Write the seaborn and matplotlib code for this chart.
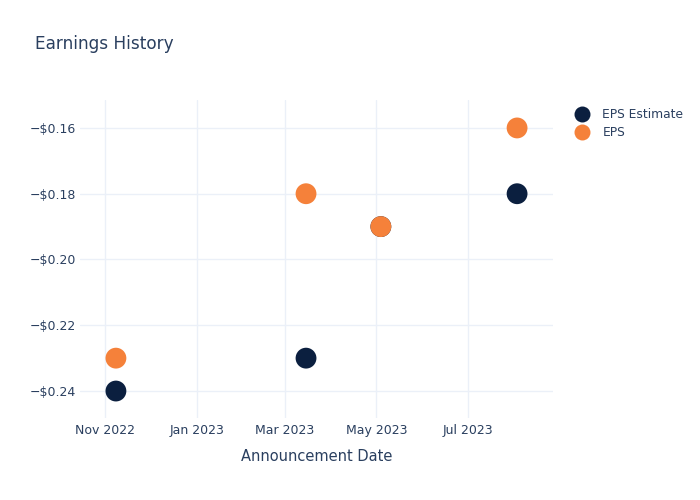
import matplotlib
matplotlib.use("Agg")
import matplotlib.pyplot as plt
import matplotlib.dates as mdates
from matplotlib.ticker import FuncFormatter, FixedLocator
from matplotlib.lines import Line2D
import seaborn as sns
import pandas as pd

dates = ["2022-11-08", "2023-03-15", "2023-05-04", "2023-08-03"]
eps_estimate = [-0.24, -0.23, -0.19, -0.18]
eps_actual = [-0.23, -0.18, -0.19, -0.16]
series_names = ["EPS Estimate", "EPS"]
colors = ["#0b1f3f", "#f5813a"]
y_ticks = [-0.24, -0.22, -0.20, -0.18, -0.16]

df = pd.DataFrame({
    "date": pd.to_datetime(dates * 2),
    "value": eps_estimate + eps_actual,
    "series": [series_names[0]] * len(dates) + [series_names[1]] * len(dates),
})

sns.set_theme(style="white")
plt.rcParams["font.family"] = ["DejaVu Sans"]
text_color = "#2a3f5f"

fig = plt.figure(figsize=(7, 5), dpi=100)
ax = fig.add_axes([80 / 700, 82 / 500, (553 - 80) / 700, (418 - 100) / 500])

sns.scatterplot(data=df, x="date", y="value", hue="series",
                palette=dict(zip(series_names, colors)), s=225,
                edgecolor="none", linewidth=0, ax=ax, legend=False, zorder=3)

ax.set_xlim(pd.Timestamp("2022-10-15"), pd.Timestamp("2023-08-27"))
ax.set_ylim(-0.2482, -0.1515)

ax.xaxis.set_major_locator(mdates.MonthLocator(bymonth=[1, 3, 5, 7, 9, 11]))
ax.xaxis.set_major_formatter(mdates.DateFormatter("%b %Y"))
ax.yaxis.set_major_locator(FixedLocator(y_ticks))
ax.yaxis.set_major_formatter(FuncFormatter(lambda v, p: ("\u2212" if v < 0 else "") + f"${abs(v):.2f}"))

ax.grid(True, color="#ebf0f8", linewidth=1)
ax.set_axisbelow(True)
for s in ax.spines.values():
    s.set_visible(False)
ax.tick_params(axis="both", length=0, labelsize=9, colors=text_color)
ax.tick_params(axis="x", pad=4)
ax.tick_params(axis="y", pad=3)
ax.set_xlabel("Announcement Date", fontsize=10.5, color=text_color, labelpad=9)
ax.set_ylabel("")

fig.text(35 / 700, 1 - 44 / 500, "Earnings History", fontsize=12.2, color=text_color,
         ha="left", va="center")

handles = [Line2D([], [], marker="o", linestyle="none", markersize=11.5,
                  markerfacecolor=c, markeredgecolor="none") for c in colors]
leg = fig.legend(handles, series_names, loc="upper left",
                 bbox_to_anchor=(562 / 700, 1 - 97 / 500), frameon=False,
                 fontsize=8.8, labelspacing=0.45, handletextpad=0.9, handlelength=1.5)
for t in leg.get_texts():
    t.set_color(text_color)

fig.savefig("out.png", dpi=100)
